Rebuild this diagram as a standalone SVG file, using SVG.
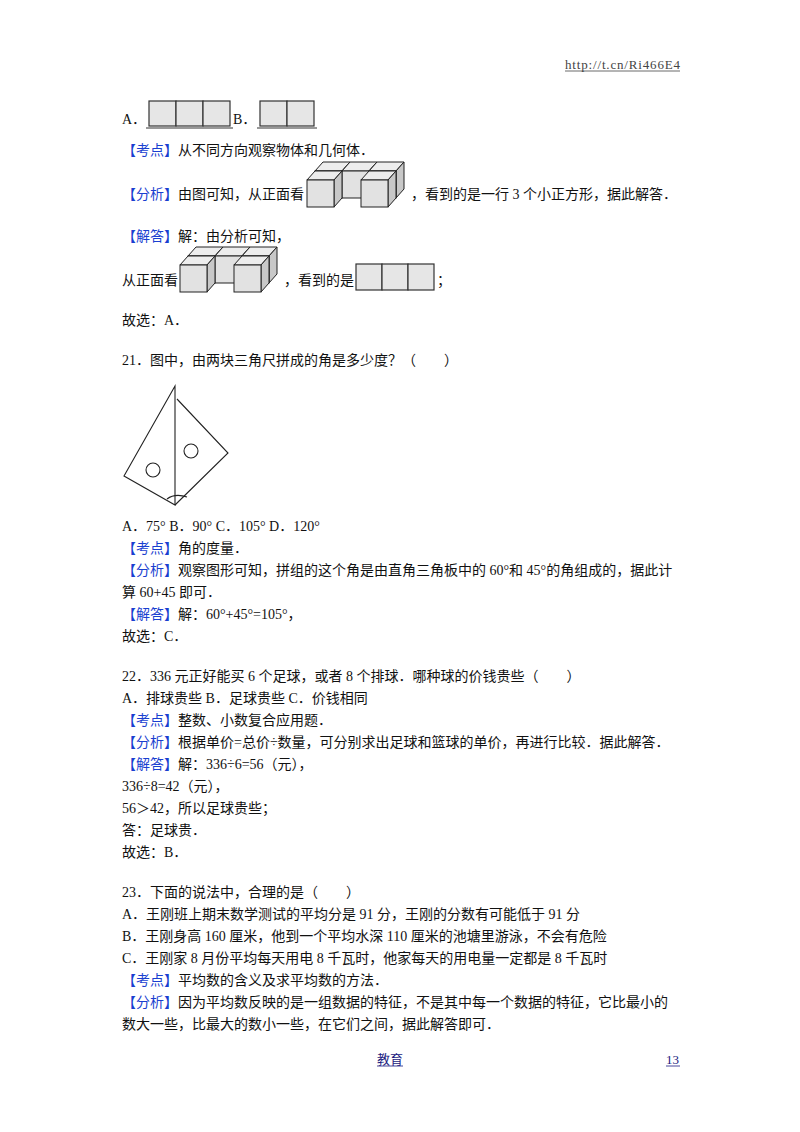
<svg xmlns="http://www.w3.org/2000/svg" xmlns:xlink="http://www.w3.org/1999/xlink" width="800" height="1132" viewBox="0 0 800 1132">
<style>
text{font-family:"Liberation Serif","Noto Sans CJK SC",serif;font-size:14px;fill:#111}
.b{fill:#1a3fd0}
.box{fill:#e6e6e6;stroke:#333;stroke-width:1.2}
.f{fill:#e2e2e2;stroke:#222;stroke-width:1}
.t{fill:#ededed;stroke:#222;stroke-width:1}
.s{fill:#c8c8c8;stroke:#222;stroke-width:1}
.ln{fill:none;stroke:#222;stroke-width:1.1}
</style>
<defs>
<g id="cube">
<path class="t" d="M0 0 L8 -9 L35 -9 L27 0Z"/>
<path class="s" d="M27 0 L35 -9 L35 18 L27 27Z"/>
<rect class="f" x="0" y="0" width="27" height="27"/>
</g>
<g id="fig">
<use xlink:href="#cube" x="8" y="-9"/>
<use xlink:href="#cube" x="35" y="-9"/>
<use xlink:href="#cube" x="62" y="-9"/>
<use xlink:href="#cube" x="0" y="0"/>
<use xlink:href="#cube" x="54" y="0"/>
</g>
</defs>
<rect width="800" height="1132" fill="#fff"/>
<text x="565" y="69" textLength="115" style="font-size:13px;fill:#444">http://t.cn/Ri466E4</text>
<line x1="565" y1="71" x2="680" y2="71" stroke="#444" stroke-width="0.8"/>

<g id="optA">
<text x="122" y="124">A．</text>
<rect class="box" x="149" y="101" width="27" height="25"/><rect class="box" x="176" y="101" width="27" height="25"/><rect class="box" x="203" y="101" width="27" height="25"/>
<line x1="146" y1="128" x2="233" y2="128" stroke="#333" stroke-width="1.2"/>
</g>
<g id="optB">
<text x="233" y="124">B．</text>
<rect class="box" x="260" y="101" width="27" height="25"/><rect class="box" x="287" y="101" width="27" height="25"/>
<line x1="257" y1="128" x2="317" y2="128" stroke="#333" stroke-width="1.2"/>
</g>
<text x="122" y="155"><tspan class="b">【考点】</tspan>从不同方向观察物体和几何体．</text>
<text x="122" y="199"><tspan class="b">【分析】</tspan>由图可知，从正面看</text>
<use xlink:href="#fig" x="307" y="180"/>
<text x="411" y="199">，看到的是一行 3 个小正方形，据此解答．</text>
<text x="122" y="241"><tspan class="b">【解答】</tspan>解：由分析可知，</text>
<text x="122" y="285">从正面看</text>
<use xlink:href="#fig" x="180" y="265"/>
<text x="284" y="285">，看到的是</text>
<rect class="box" x="356" y="264" width="26" height="26"/><rect class="box" x="382" y="264" width="26" height="26"/><rect class="box" x="408" y="264" width="26" height="26"/>
<text x="437" y="285">；</text>
<text x="122" y="325">故选：A．</text>

<text x="122" y="365">21．图中，由两块三角尺拼成的角是多少度？（　　）</text>
<g id="triangles" class="ln">
<path d="M175 386 L124 476 L175 505 Z"/>
<path d="M177 399 L228 453 L175 505"/>
<circle cx="153" cy="470" r="7"/>
<circle cx="191" cy="451" r="7"/>
<path d="M167 499 Q175 493 187 497"/>
</g>
<text x="122" y="531">A．75°  B．90°  C．105° D．120°</text>
<text x="122" y="553"><tspan class="b">【考点】</tspan>角的度量．</text>
<text x="122" y="575"><tspan class="b">【分析】</tspan>观察图形可知，拼组的这个角是由直角三角板中的 60°和 45°的角组成的，据此计</text>
<text x="122" y="597">算 60+45 即可．</text>
<text x="122" y="619"><tspan class="b">【解答】</tspan>解：60°+45°=105°，</text>
<text x="122" y="641">故选：C．</text>

<text x="122" y="681">22．336 元正好能买 6 个足球，或者 8 个排球．哪种球的价钱贵些（　　）</text>
<text x="122" y="703">A．排球贵些 B．足球贵些 C．价钱相同</text>
<text x="122" y="725"><tspan class="b">【考点】</tspan>整数、小数复合应用题．</text>
<text x="122" y="747"><tspan class="b">【分析】</tspan>根据单价=总价÷数量，可分别求出足球和篮球的单价，再进行比较．据此解答．</text>
<text x="122" y="769"><tspan class="b">【解答】</tspan>解：336÷6=56（元），</text>
<text x="122" y="791">336÷8=42（元），</text>
<text x="122" y="813">56＞42，所以足球贵些；</text>
<text x="122" y="835">答：足球贵．</text>
<text x="122" y="857">故选：B．</text>

<text x="122" y="897">23．下面的说法中，合理的是（　　）</text>
<text x="122" y="919">A．王刚班上期末数学测试的平均分是 91 分，王刚的分数有可能低于 91 分</text>
<text x="122" y="941">B．王刚身高 160 厘米，他到一个平均水深 110 厘米的池塘里游泳，不会有危险</text>
<text x="122" y="963">C．王刚家 8 月份平均每天用电 8 千瓦时，他家每天的用电量一定都是 8 千瓦时</text>
<text x="122" y="985"><tspan class="b">【考点】</tspan>平均数的含义及求平均数的方法．</text>
<text x="122" y="1007"><tspan class="b">【分析】</tspan>因为平均数反映的是一组数据的特征，不是其中每一个数据的特征，它比最小的</text>
<text x="122" y="1029">数大一些，比最大的数小一些，在它们之间，据此解答即可．</text>

<text x="377" y="1064" style="font-size:13px;fill:#1a1a80">教育</text>
<line x1="377" y1="1066" x2="403" y2="1066" stroke="#1a1a80" stroke-width="0.8"/>
<text x="666" y="1064" style="font-size:13px;fill:#1a1a80">13</text>
<line x1="666" y1="1066" x2="680" y2="1066" stroke="#1a1a80" stroke-width="0.8"/>
</svg>
